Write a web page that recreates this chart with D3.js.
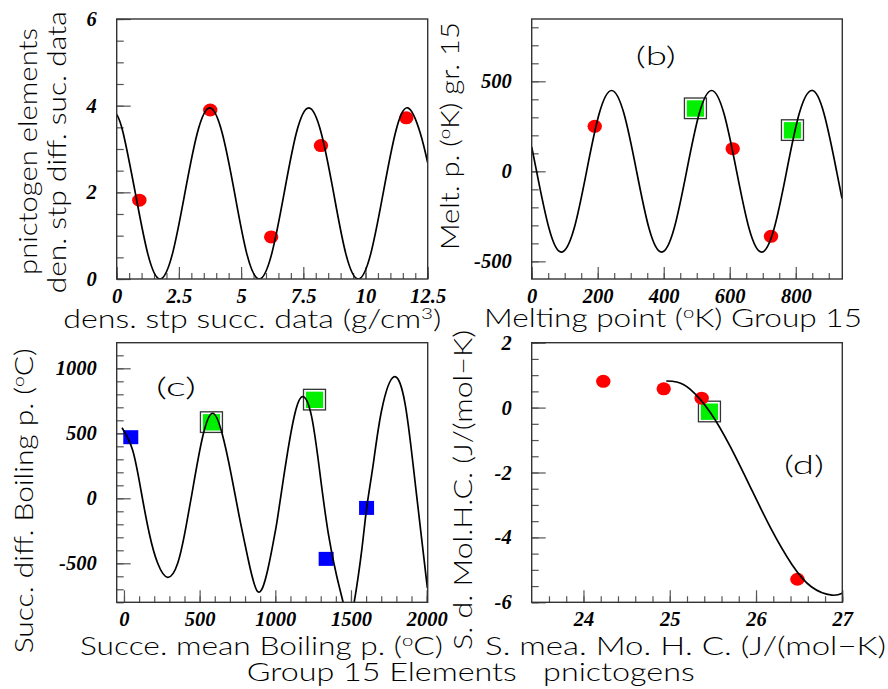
<!DOCTYPE html>
<html><head><meta charset="utf-8">
<script src="https://cdn.jsdelivr.net/npm/d3@7/dist/d3.min.js"></script>
<style>body{margin:0;background:#fff} svg{display:block}</style>
</head><body>
<svg id="chart" width="888" height="689"></svg>
<script>
// ---------------- DATA ----------------
// Panel (a)
const aXTicks = [0, 2.5, 5, 7.5, 10, 12.5];
const aYTicks = [0, 2, 4, 6];
const aRed = [[0.91,1.82],[3.76,3.90],[6.21,0.97],[8.21,3.08],[11.64,3.72]];
const aCurve = [[0,3.80],[0.26,3.37],[0.75,1.98],[1.25,0.58],[1.74,0],[2.24,0.58],[2.74,1.98],[3.24,3.37],[3.74,3.95],[4.24,3.37],[4.74,1.98],[5.23,0.58],[5.73,0],[6.23,0.58],[6.73,1.98],[7.22,3.37],[7.72,3.95],[8.22,3.37],[8.72,1.98],[9.21,0.58],[9.71,0],[10.21,0.58],[10.71,1.98],[11.20,3.37],[11.70,3.95],[12.20,3.37],[12.5,2.68]];
// Panel (b)
const bXTicks = [0, 200, 400, 600, 800];
const bYTicks = [-500, 0, 500];
const bRed = [[191,250],[609,126],[725,-361]];
const bGreen = [[496,350],[790,229]];
const bCurve = [[0,136],[14.8,0],[52.6,-318],[90.5,-449],[128.4,-318],[166.3,0],[204.1,318],[242,449],[279.9,318],[317.8,0],[355.6,-318],[393.5,-449],[431.4,-318],[469.3,0],[507.1,318],[545,449],[582.9,318],[620.8,0],[658.6,-318],[696.5,-449],[734.4,-318],[772.3,0],[810.1,318],[848,449],[885.9,318],[923.8,0],[940,-150]];
// Panel (c)
const cXTicks = [0, 500, 1000, 1500, 2000];
const cYTicks = [-500, 0, 500, 1000];
const cBlue = [[45,470],[1336,-466],[1603,-74]];
const cGreen = [[578,586],[1259,759]];
const cCurve = [[-13,543],[57,372],[112,64],[167,-269],[223,-500],[289,-608],[355,-500],[410,-218],[465,141],[520,474],[584,654],[648,500],[707,192],[762,-141],[817,-449],[884,-718],[950,-550],[1000,-254],[1020,-112],[1075,310],[1130,654],[1181,782],[1240,628],[1295,192],[1350,-269],[1406,-600],[1450,-808],[1485,-940],[1520,-808],[1571,-400],[1604,-72],[1648,269],[1703,679],[1785,935],[1857,731],[1912,243],[1968,-321],[2005,-692]];
// Panel (d)
const dXTicks = [24, 25, 26, 27];
const dYTicks = [-6, -4, -2, 0, 2];
const dRed = [[24.23,0.81],[24.93,0.58],[25.37,0.29],[26.48,-5.29]];
const dGreen = [[25.46,-0.12]];
const dCurve = [[24.96,0.82],[25.08,0.79],[25.235,0.57],[25.47,-0.15],[25.705,-1.22],[25.94,-2.48],[26.175,-3.74],[26.41,-4.81],[26.645,-5.53],[26.88,-5.78],[27.0,-5.72]];
// Texts
const panelTags = ["(b)", "(c)", "(d)"];
const bottomLine = "Group 15 Elements   pnictogens";

// ---------------- DRAWING ----------------
const svg = d3.select('#chart');
svg.append('rect').attr('width',888).attr('height',689).attr('fill','#fff');

const TICKFONT = "'Liberation Serif','Times New Roman',serif";
const TITLEFONT = "Lato,'DejaVu Sans','Liberation Sans',sans-serif";
const TITLEWEIGHT = 300;

function drawPanel(p) {
  const g = svg.append('g');
  const [x0,y0,x1,y1] = p.frame;
  const x = d3.scaleLinear().domain(p.xDom).range([x0,x1]);
  const y = d3.scaleLinear().domain(p.yDom).range([y1,y0]);
  const clipId = 'clip' + p.id;
  svg.append('clipPath').attr('id', clipId).append('rect')
    .attr('x', x0).attr('y', y0).attr('width', x1-x0).attr('height', y1-y0);

  const gx = g.append('g').attr('transform', `translate(0,${y1})`);
  gx.append('g').call(d3.axisBottom(x).tickValues(p.xMinor).tickSize(-6).tickFormat(''));
  gx.append('g').call(d3.axisBottom(x).tickValues(p.xMajor).tickSize(-12).tickFormat(d => String(d)));
  const gy = g.append('g').attr('transform', `translate(${x0},0)`);
  gy.append('g').call(d3.axisLeft(y).tickValues(p.yMinor).tickSize(-7).tickFormat(''));
  gy.append('g').call(d3.axisLeft(y).tickValues(p.yMajor).tickSize(-14).tickPadding(20).tickFormat(d => String(d)));

  g.selectAll('.domain').remove();
  g.selectAll('g').attr('font-family', null).attr('font-size', null);
  g.selectAll('.tick line').attr('stroke', '#555').attr('stroke-width', 1.2);
  g.selectAll('.tick text').attr('fill', '#000')
    .attr('font-family', TICKFONT).attr('font-weight', 'bold')
    .attr('font-style', 'italic').attr('font-size', 20.5);
  gx.selectAll('.tick text').attr('y', 24).attr('dy', 0);

  const pg = g.append('g').attr('clip-path', `url(#${clipId})`);
  (p.green || []).forEach(d => {
    const cx = x(d[0]), cy = y(d[1]);
    pg.append('rect').attr('x', cx-11).attr('y', cy-10.3).attr('width', 22).attr('height', 20.6)
      .attr('fill', '#fff').attr('stroke', '#333').attr('stroke-width', 1.3);
    pg.append('rect').attr('x', cx-8.6).attr('y', cy-8).attr('width', 17.2).attr('height', 16.4)
      .attr('fill', '#00f000');
  });
  (p.blue || []).forEach(d => {
    pg.append('rect').attr('x', x(d[0])-7.5).attr('y', y(d[1])-7).attr('width', 15).attr('height', 14)
      .attr('fill', '#0000ff');
  });
  (p.red || []).forEach(d => {
    pg.append('ellipse').attr('cx', x(d[0])).attr('cy', y(d[1])).attr('rx', 7.2).attr('ry', 6.5)
      .attr('fill', '#ff0000');
  });
  pg.append('path').datum(p.curve)
    .attr('d', d3.line().x(d => x(d[0])).y(d => y(d[1])).curve(d3.curveNatural))
    .attr('fill', 'none').attr('stroke', '#000').attr('stroke-width', 1.7);

  g.append('rect').attr('x', x0).attr('y', y0).attr('width', x1-x0).attr('height', y1-y0)
    .attr('fill', 'none').attr('stroke', '#333').attr('stroke-width', 1.4);
}

drawPanel({id:'a', frame:[116.7,19,427.7,279], xDom:[0,12.5], yDom:[0,6],
  xMajor:aXTicks, xMinor:d3.range(0,12.51,0.5), yMajor:aYTicks, yMinor:d3.range(0,6.01,0.5),
  red:aRed, curve:aCurve});
drawPanel({id:'b', frame:[531.7,19,842.3,279], xDom:[0,941], yDom:[-598,846],
  xMajor:bXTicks, xMinor:d3.range(0,941,50), yMajor:bYTicks, yMinor:d3.range(-500,801,100),
  red:bRed, green:bGreen, curve:bCurve});
drawPanel({id:'c', frame:[116.7,342.7,427.7,602.3], xDom:[-48,2007], yDom:[-800,1197],
  xMajor:cXTicks, xMinor:d3.range(0,2001,100), yMajor:cYTicks, yMinor:d3.range(-800,1101,100),
  blue:cBlue, green:cGreen, curve:cCurve});
drawPanel({id:'d', frame:[531.7,342.7,842.3,602.3], xDom:[23.4,27], yDom:[-6,2],
  xMajor:dXTicks, xMinor:d3.range(23.6,27.01,0.2), yMajor:dYTicks, yMinor:d3.range(-6,2.01,0.5),
  red:dRed, green:dGreen, curve:dCurve});

// ---------------- TEXT ----------------
function title(opts) {
  const t = svg.append('text')
    .attr('x', opts.x).attr('y', opts.y)
    .attr('text-anchor', 'start')
    .attr('xml:space', 'preserve').style('white-space', 'pre')
    .attr('font-family', TITLEFONT).attr('font-weight', TITLEWEIGHT)
    .attr('font-size', opts.size || 25)
    .attr('fill', '#000');
  if (opts.rotate) t.attr('transform', `rotate(-90,${opts.x},${opts.y})`);
  let shift = 0;
  opts.parts.forEach(part => {
    if (Array.isArray(part)) {
      t.append('tspan').attr('dy', -9).attr('font-size', 16).text(part[0]);
      shift = 9;
    } else {
      const s = t.append('tspan').text(part);
      if (shift) { s.attr('dy', shift); shift = 0; }
    }
  });
  if (opts.len) t.attr('textLength', opts.len).attr('lengthAdjust', 'spacingAndGlyphs');
  return t;
}
// x titles
title({x:63.3, y:328, len:378, parts:["dens. stp succ. data (g/cm", ["3"], ")"]});
title({x:484, y:327, len:378, parts:["Melting point (", ["o"], "K) Group 15"]});
title({x:80, y:655, len:363, parts:["Succe. mean Boiling p. (", ["o"], "C)"]});
title({x:485, y:655, len:401, parts:["S. mea. Mo. H. C. (J/(mol\u2212K)"]});
title({x:246.7, y:681, len:448, parts:[bottomLine]});
// y titles (rotated)
title({x:37, y:275, len:247, rotate:true, parts:["pnictogen elements"]});
title({x:66, y:293.3, len:282, rotate:true, parts:["den. stp diff. suc. data"]});
title({x:459, y:250, len:228, rotate:true, parts:["Melt. p. (", ["o"], "K) gr. 15"]});
title({x:33.3, y:653.3, len:305, rotate:true, parts:["Succ. diff. Boiling p. (", ["o"], "C)"]});
title({x:472, y:650, len:320, rotate:true, parts:["S. d. Mol.H.C. (J/(mol\u2212K)"]});
// panel tags
[[panelTags[0],655.7,65],[panelTags[1],176,396],[panelTags[2],804,473.5]].forEach(d => {
  svg.append('text').attr('x', d[1]).attr('y', d[2]).attr('text-anchor', 'middle')
    .attr('font-family', TITLEFONT).attr('font-weight', TITLEWEIGHT).attr('font-size', 26).attr('fill', '#000')
    .attr('textLength', 40).attr('lengthAdjust', 'spacingAndGlyphs').text(d[0]);
});
</script>
</body></html>
